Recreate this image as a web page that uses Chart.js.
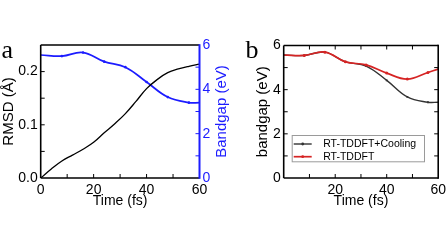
<!DOCTYPE html>
<html><head><meta charset="utf-8">
<script src="https://cdn.jsdelivr.net/npm/chart.js@4.4.0/dist/chart.umd.min.js"></script>
<style>
html,body{margin:0;padding:0;background:#fff;width:448px;height:252px;overflow:hidden;position:relative;}
#ca{position:absolute;left:0;top:0;}
#cb{position:absolute;left:236px;top:0;}
</style></head><body>
<canvas id="ca" width="236" height="252"></canvas>
<canvas id="cb" width="214" height="252"></canvas>
<script>
// ---- data ----
const rmsdTime = [0,4,8,12,16,20,24,28,32,36,40,44,48,52,56,60];
const rmsd = [0,0.017,0.032,0.043,0.054,0.067,0.085,0.102,0.121,0.144,0.168,0.185,0.198,0.205,0.210,0.214];
const gapTime = [0,8,16,24,32,40,48,56,60];
const gapA = [5.55,5.50,5.66,5.25,5.00,4.33,3.65,3.40,3.40];
const gapCooling = [5.57,5.55,5.70,5.26,5.07,4.42,3.67,3.43,3.43];
const gapTDDFT = [5.57,5.55,5.70,5.26,5.12,4.75,4.48,4.78,4.93];
const seriesNamesB = ['RT-TDDFT+Cooling','RT-TDDFT'];
const panelLabels = ['a','b'];
const xLabelsA = [0,20,40,60];
const xLabelsB = [20,40,60];
const rmsdLabels = [0,0.1,0.2];
const gapLabels = [0,2,4,6];

const BLUE = 'rgb(28,28,255)';
const RED = 'rgb(214,36,36)';
const DARK = '#333';

Chart.defaults.font.family = "'Liberation Sans', Arial, sans-serif";
Chart.defaults.color = '#000';
Chart.defaults.devicePixelRatio = 1;

const xy = (xs, ys) => xs.map((x, i) => ({x, y: ys[i]}));
const near = (v, arr) => arr.some(a => Math.abs(a - v) < 1e-6);
const markerR = r => ctx => { const x = ctx.raw && ctx.raw.x; return (x === 0 || x === 60) ? 0 : r; };

const framePlugin = {
  id: 'frame',
  afterDatasetsDraw(chart, args, opts) {
    const {ctx, chartArea: a} = chart;
    const tl = 4;
    const line = (x1, y1, x2, y2) => { ctx.beginPath(); ctx.moveTo(x1, y1); ctx.lineTo(x2, y2); ctx.stroke(); };
    ctx.save();
    ctx.lineWidth = 1;
    ctx.strokeStyle = '#000';
    const xs = chart.scales.x;
    xs.ticks.forEach(t => {
      const p = xs.getPixelForValue(t.value);
      if (p <= a.left + 1 || p >= a.right - 1) return;
      line(p, a.bottom, p, a.bottom - tl);
      if (opts.mirror) line(p, a.top, p, a.top + tl);
    });
    const ys = chart.scales.y;
    ys.ticks.forEach(t => {
      const p = ys.getPixelForValue(t.value);
      if (p <= a.top + 1 || p >= a.bottom - 1) return;
      line(a.left, p, a.left + tl, p);
      if (opts.mirror) line(a.right, p, a.right - tl, p);
    });
    if (chart.scales.y1) {
      const s = chart.scales.y1;
      ctx.strokeStyle = BLUE;
      s.ticks.forEach(t => {
        const p = s.getPixelForValue(t.value);
        if (p <= a.top + 1 || p >= a.bottom - 1) return;
        line(a.right, p, a.right - tl, p);
      });
    }
    ctx.lineWidth = 1.6;
    ctx.strokeStyle = '#000';
    line(a.left, a.top, a.right, a.top);
    line(a.left, a.top, a.left, a.bottom);
    line(a.left, a.bottom, a.right, a.bottom);
    ctx.strokeStyle = opts.rightColor || '#000';
    ctx.lineWidth = opts.rightColor ? 2 : 1.6;
    line(a.right, a.top - 0.8, a.right, a.bottom + 0.8);
    // right-axis title reading bottom-to-top
    if (chart.scales.y1) {
      const s = chart.scales.y1;
      const t = s.options.title;
      ctx.save();
      ctx.fillStyle = t.color;
      ctx.font = "15px 'Liberation Sans', Arial, sans-serif";
      ctx.textAlign = 'center';
      ctx.textBaseline = 'middle';
      ctx.translate(opts.rightTitleX, (a.top + a.bottom) / 2);
      ctx.rotate(-Math.PI / 2);
      ctx.fillText(t.text, 0, 0);
      ctx.restore();
    }
    ctx.restore();
  }
};

const labelPlugin = {
  id: 'panelLabel',
  afterDraw(chart, args, opts) {
    const ctx = chart.ctx;
    ctx.save();
    ctx.font = "26px 'Liberation Serif', 'Times New Roman', serif";
    ctx.fillStyle = '#000';
    ctx.textBaseline = 'alphabetic';
    ctx.fillText(opts.text, opts.x, opts.y);
    ctx.restore();
  }
};

const boxLegendPlugin = {
  id: 'boxLegend',
  afterDraw(chart, args, opts) {
    if (!opts.show) return;
    const ctx = chart.ctx;
    ctx.save();
    ctx.fillStyle = '#fff';
    ctx.fillRect(opts.x, opts.y, opts.w, opts.h);
    ctx.strokeStyle = '#9a9a9a';
    ctx.lineWidth = 1;
    ctx.strokeRect(opts.x + 0.5, opts.y + 0.5, opts.w, opts.h);
    ctx.font = "10.5px 'Liberation Sans', Arial, sans-serif";
    ctx.textBaseline = 'middle';
    chart.data.datasets.forEach((ds, i) => {
      const y = opts.y + 9 + i * 12.7;
      ctx.strokeStyle = ds.borderColor;
      ctx.lineWidth = ds.borderWidth;
      ctx.beginPath(); ctx.moveTo(opts.x + 2, y); ctx.lineTo(opts.x + 20, y); ctx.stroke();
      ctx.fillStyle = ds.borderColor;
      ctx.beginPath(); ctx.arc(opts.x + 11, y, 1.4, 0, Math.PI * 2); ctx.fill();
      ctx.fillStyle = '#000';
      ctx.fillText(ds.label, opts.x + 31.5, y + 0.5);
    });
    ctx.restore();
  }
};

const titleFont = {size: 15};
const tickFont = {size: 14};

new Chart(document.getElementById('ca'), {
  type: 'line',
  data: {
    datasets: [
      {label: 'RMSD', data: xy(rmsdTime, rmsd), yAxisID: 'y', borderColor: '#000', borderWidth: 1.3,
       pointRadius: 0, tension: 0.4, fill: false},
      {label: 'Bandgap', data: xy(gapTime, gapA), yAxisID: 'y1', borderColor: BLUE, backgroundColor: BLUE,
       borderWidth: 1.7, pointRadius: markerR(1.3), pointBorderWidth: 0, tension: 0.4, fill: false}
    ]
  },
  options: {
    responsive: false, animation: false, events: [],
    layout: {padding: {top: 45, left: 0, right: 5.3, bottom: 42.6}},
    plugins: {legend: {display: false}, tooltip: {enabled: false},
      frame: {rightColor: BLUE, mirror: false, rightTitleX: 221.7},
      panelLabel: {text: panelLabels[0], x: 1.5, y: 58.3}},
    scales: {
      x: {type: 'linear', min: 0, max: 60, position: 'bottom',
        grid: {display: false, drawTicks: false}, border: {display: false},
        ticks: {stepSize: 10, autoSkip: false, maxRotation: 0, padding: 4, font: tickFont,
          callback: v => near(v, xLabelsA) ? String(v) : ''},
        title: {display: true, text: 'Time (fs)', font: {size: 14}, padding: 0},
        afterFit: s => { s.height = 31.4; }},
      y: {type: 'linear', min: 0, max: 0.25, position: 'left',
        grid: {display: false, drawTicks: false}, border: {display: false},
        ticks: {stepSize: 0.05, autoSkip: false, padding: 3, font: tickFont,
          callback: v => near(v, rmsdLabels) ? v.toFixed(1) : ''},
        title: {display: true, text: 'RMSD (Å)', font: titleFont, padding: 0},
        afterFit: s => { s.width = 40.7; }},
      y1: {type: 'linear', min: 0, max: 6, position: 'right',
        grid: {display: false, drawTicks: false}, border: {display: false},
        ticks: {stepSize: 1, autoSkip: false, padding: 3, font: tickFont, color: BLUE,
          callback: v => near(v, gapLabels) ? String(v) : ''},
        title: {display: false, text: 'Bandgap (eV)', font: titleFont, padding: 0, color: BLUE},
        afterFit: s => { s.width = 31.2; }}
    }
  },
  plugins: [framePlugin, labelPlugin]
});

new Chart(document.getElementById('cb'), {
  type: 'line',
  data: {
    datasets: [
      {label: seriesNamesB[0], data: xy(gapTime, gapCooling), borderColor: DARK, backgroundColor: DARK,
       borderWidth: 1.4, pointRadius: markerR(1.3), pointStyle: 'rect', pointBorderWidth: 0,
       tension: 0.4, fill: false, order: 1},
      {label: seriesNamesB[1], data: xy(gapTime, gapTDDFT), borderColor: RED, backgroundColor: RED,
       borderWidth: 1.7, pointRadius: markerR(1.5), pointBorderWidth: 0,
       tension: 0.4, fill: false, order: 0}
    ]
  },
  options: {
    responsive: false, animation: false, events: [],
    layout: {padding: {top: 45.5, left: 17.7, right: 9.3, bottom: 42.6}},
    plugins: {legend: {display: false}, tooltip: {enabled: false},
      frame: {mirror: true},
      panelLabel: {text: panelLabels[1], x: 9.5, y: 58.3},
      boxLegend: {show: true, x: 55.7, y: 135, w: 132.3, h: 26.3}},
    scales: {
      x: {type: 'linear', min: 0, max: 60, position: 'bottom',
        grid: {display: false, drawTicks: false}, border: {display: false},
        ticks: {stepSize: 10, autoSkip: false, maxRotation: 0, padding: 4, font: tickFont,
          callback: v => near(v, xLabelsB) ? String(v) : ''},
        title: {display: true, text: 'Time (fs)', font: {size: 14}, padding: 0},
        afterFit: s => { s.height = 31.4; }},
      y: {type: 'linear', min: 0, max: 6, position: 'left',
        grid: {display: false, drawTicks: false}, border: {display: false},
        ticks: {stepSize: 1, autoSkip: false, padding: 3, font: tickFont,
          callback: v => near(v, gapLabels) ? String(v) : ''},
        title: {display: true, text: 'bandgap (eV)', font: titleFont, padding: 0},
        afterFit: s => { s.width = 30; }}
    }
  },
  plugins: [framePlugin, labelPlugin, boxLegendPlugin]
});
</script>
</body></html>
